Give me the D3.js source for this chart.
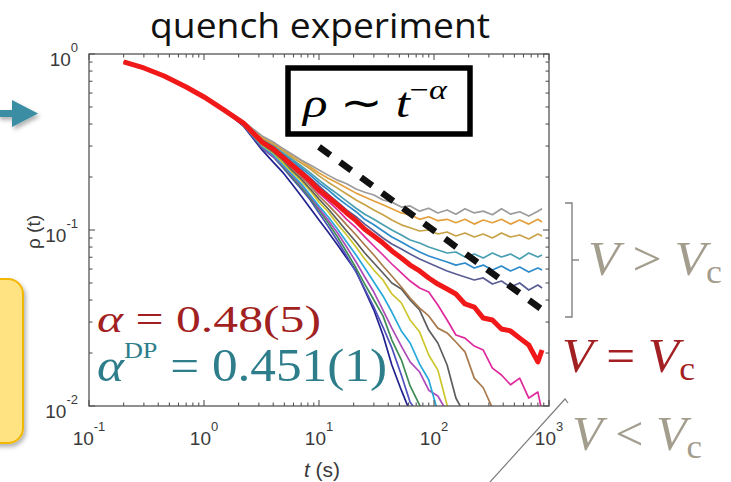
<!DOCTYPE html>
<html><head><meta charset="utf-8">
<script src="https://cdn.jsdelivr.net/npm/d3@7/dist/d3.min.js"></script>
<style>html,body{margin:0;padding:0;background:#fff;}svg{display:block;}</style>
</head><body>
<svg id="chart" width="731" height="482"></svg>
<script>
// ---------------- data ----------------
const times = [0.2,0.3,0.45,0.7,1,1.5,2.2,3.2,4,4.8,5.8,7,8.4,10,12,14.5,17.4,21,25,30,36,43,52,62,75,90,108,130,155,186,224,268,322,386,463,556,667,800,870];
const rhoEarly = [0.901,0.833,0.750,0.649,0.570,0.480];
const rhoGray = [0.414,0.342,0.316,0.292,0.270,0.250,0.234,0.219,0.205,0.192,0.183,0.171,0.164,0.158,0.148,0.144,0.135,0.137,0.128,0.133,0.125,0.130,0.123,0.132,0.125,0.128,0.122,0.132,0.123,0.127,0.120,0.128,0.132];
const rhoOrange = [0.412,0.338,0.312,0.289,0.267,0.247,0.228,0.211,0.197,0.185,0.173,0.162,0.154,0.146,0.139,0.132,0.125,0.122,0.115,0.119,0.113,0.115,0.110,0.115,0.108,0.114,0.110,0.115,0.108,0.114,0.108,0.115,0.111];
const rhoTan = [0.410,0.333,0.308,0.285,0.260,0.240,0.222,0.203,0.187,0.173,0.160,0.148,0.139,0.130,0.122,0.114,0.107,0.103,0.0987,0.100,0.0949,0.0974,0.0925,0.0962,0.0913,0.0949,0.0901,0.0962,0.0913,0.0937,0.0889,0.0949,0.0925];
const rhoTeal = [0.408,0.329,0.304,0.277,0.253,0.231,0.211,0.192,0.175,0.160,0.146,0.133,0.123,0.115,0.107,0.100,0.0937,0.0877,0.0843,0.0800,0.0770,0.0740,0.0750,0.0702,0.0730,0.0693,0.0740,0.0702,0.0730,0.0684,0.0740,0.0702,0.0721];
const rhoBlue = [0.406,0.325,0.300,0.274,0.250,0.225,0.205,0.185,0.169,0.152,0.139,0.127,0.115,0.107,0.0987,0.0913,0.0855,0.0800,0.0750,0.0712,0.0684,0.0658,0.0632,0.0649,0.0608,0.0632,0.0592,0.0624,0.0585,0.0616,0.0577,0.0608,0.0592];
const rhoSlate = [0.405,0.320,0.296,0.270,0.243,0.219,0.197,0.178,0.160,0.144,0.130,0.119,0.108,0.0987,0.0901,0.0832,0.0780,0.0730,0.0684,0.0649,0.0616,0.0585,0.0562,0.0541,0.0520,0.0534,0.0493,0.0513,0.0474,0.0500,0.0456,0.0487,0.0468];
const rhoRed = [0.405,0.316,0.289,0.260,0.234,0.211,0.190,0.169,0.154,0.139,0.125,0.113,0.101,0.0925,0.0843,0.0760,0.0693,0.0632,0.0585,0.0534,0.0493,0.0462,0.0433,0.0380,0.0365,0.0316,0.0308,0.0274,0.0267,0.0243,0.0222,0.0178,0.0208];
const rhoMagenta = [0.403,0.316,0.285,0.257,0.228,0.205,0.183,0.162,0.146,0.130,0.115,0.103,0.0913,0.0811,0.0721,0.0641,0.0570,0.0513,0.0468,0.0444,0.0375,0.0308,0.0253,0.0243,0.0219,0.0208,0.0164,0.0150,0.0132,0.0144,0.0111,0.0120,0.00925];
const rhoBrown = [0.401,0.312,0.281,0.253,0.225,0.200,0.178,0.156,0.139,0.122,0.107,0.0937,0.0822,0.0721,0.0624,0.0548,0.0474,0.0411,0.0360,0.0325,0.0277,0.0260,0.0231,0.0203,0.0144,0.0127,0.00975,0.00855];
const rhoDarkGray = [0.400,0.308,0.277,0.250,0.219,0.195,0.171,0.150,0.132,0.114,0.0987,0.0855,0.0740,0.0649,0.0570,0.0500,0.0462,0.0400,0.0351,0.0270,0.0228,0.0171,0.0111,0.00889];
const rhoYellow = [0.398,0.304,0.274,0.243,0.214,0.190,0.167,0.144,0.127,0.108,0.0937,0.0800,0.0684,0.0592,0.0520,0.0433,0.0385,0.0308,0.0263,0.0195,0.0160,0.0101,0.00889];
const rhoCyan = [0.396,0.300,0.267,0.237,0.208,0.183,0.158,0.137,0.119,0.101,0.0855,0.0721,0.0608,0.0506,0.0422,0.0342,0.0267,0.0228,0.0173,0.0141,0.00925];
const rhoOrchid = [0.396,0.298,0.263,0.234,0.205,0.180,0.156,0.133,0.114,0.0962,0.0800,0.0658,0.0541,0.0444,0.0351,0.0277,0.0219,0.0178,0.0156,0.0123,0.0114,0.00925];
const rhoGreen = [0.394,0.296,0.263,0.231,0.200,0.175,0.152,0.130,0.110,0.0913,0.0750,0.0608,0.0493,0.0400,0.0325,0.0237,0.0183,0.0130,0.0101,0.00889];
const rhoPurple = [0.392,0.292,0.260,0.228,0.197,0.171,0.148,0.125,0.105,0.0866,0.0712,0.0577,0.0462,0.0365,0.0281,0.0214,0.0150,0.0105,0.00889];
const rhoNavy = [0.390,0.285,0.243,0.214,0.183,0.156,0.133,0.114,0.0974,0.0822,0.0693,0.0585,0.0456,0.0351,0.0253,0.0171,0.0123,0.00925];

const thinSeries = [rhoNavy, rhoPurple, rhoGreen, rhoOrchid, rhoCyan, rhoYellow, rhoDarkGray, rhoBrown, rhoMagenta, rhoSlate, rhoBlue, rhoTeal, rhoTan, rhoOrange, rhoGray];
const thinColors = ["#22228e","#5050bd","#3e8c55","#ad4bb8","#27a8da","#cdc62e","#5d5d5d","#a8794b","#e0299c","#5a5e95","#2e8bcb","#4a9fb2","#c8a247","#e3a03c","#9c9c9c"];
const redSeries = rhoRed;

const dashT = [10, 960];
const dashRho = [0.297, 0.0337];

const xTickValues = [0.1, 1, 10, 100, 1000];
const xTickExp = ["-1", "0", "1", "2", "3"];
const yTickValues = [1, 0.1, 0.01];
const yTickExp = ["0", "-1", "-2"];

// ---------------- layout ----------------
const svg = d3.select("#chart");
const L = 89, R = 549, T = 54, B = 406;
const x = d3.scaleLog().domain([0.1, 1000]).range([L, R]);
const y = d3.scaleLog().domain([0.01, 1]).range([B, T]);

const defs = svg.append("defs");
defs.append("clipPath").attr("id", "plotclip").append("rect")
  .attr("x", L).attr("y", T).attr("width", R - L).attr("height", B - T);
const sh = defs.append("filter").attr("id", "shadow").attr("x", "-50%").attr("y", "-50%").attr("width", "200%").attr("height", "200%");
sh.append("feDropShadow").attr("dx", 2).attr("dy", 3).attr("stdDeviation", 2).attr("flood-color", "#000").attr("flood-opacity", 0.3);

// yellow box at left
svg.append("rect").attr("x", -40).attr("y", 279).attr("width", 63).attr("height", 164).attr("rx", 15)
  .attr("fill", "#ffe281").attr("stroke", "#f2b705").attr("stroke-width", 2).attr("filter", "url(#shadow)");

// teal arrow
const arrow = svg.append("g").attr("filter", "url(#shadow)");
arrow.append("rect").attr("x", -2).attr("y", 110).attr("width", 16).attr("height", 7).attr("fill", "#3a8da4");
arrow.append("path").attr("d", "M12,100 L38,113.5 L12,127 Z").attr("fill", "#3a8da4");

// title
svg.append("text").attr("x", 150).attr("y", 38)
  .attr("font-family", "'Open Sans', sans-serif").attr("font-size", 35).attr("fill", "#111")
  .attr("textLength", 340).attr("lengthAdjust", "spacingAndGlyphs")
  .text("quench experiment");

// curves
const line = d3.line().x(d => x(d[0])).y(d => y(d[1]));
const plot = svg.append("g").attr("clip-path", "url(#plotclip)");
thinSeries.forEach((s, k) => {
  const vals = rhoEarly.concat(s);
  const pts = vals.map((v, i) => [times[i], v]);
  plot.append("path").attr("d", line(pts)).attr("fill", "none")
    .attr("stroke", thinColors[k]).attr("stroke-width", 1.7).attr("stroke-linejoin", "round");
});
{
  const vals = rhoEarly.concat(redSeries);
  const pts = vals.map((v, i) => [times[i], v]);
  plot.append("path").attr("d", line(pts)).attr("fill", "none")
    .attr("stroke", "#f01818").attr("stroke-width", 5).attr("stroke-linejoin", "round");
}
// dashed power-law guide
plot.append("path").attr("d", line(dashT.map((t, i) => [t, dashRho[i]])))
  .attr("fill", "none").attr("stroke", "#111").attr("stroke-width", 6.5).attr("stroke-dasharray", "14,12");

// frame + ticks
const axisColor = "#555";
svg.append("rect").attr("x", L).attr("y", T).attr("width", R - L).attr("height", B - T)
  .attr("fill", "none").attr("stroke", axisColor).attr("stroke-width", 1.3);
const isMajor = v => Math.abs(Math.log10(v) - Math.round(Math.log10(v))) < 1e-9;
const tg = svg.append("g").attr("stroke", axisColor).attr("stroke-width", 1.1);
x.ticks().forEach(v => {
  const len = isMajor(v) ? 6 : 3.5, px = x(v);
  tg.append("line").attr("x1", px).attr("x2", px).attr("y1", B).attr("y2", B - len);
  tg.append("line").attr("x1", px).attr("x2", px).attr("y1", T).attr("y2", T + len);
});
y.ticks().forEach(v => {
  const len = isMajor(v) ? 6 : 3.5, py = y(v);
  tg.append("line").attr("x1", L).attr("x2", L + len).attr("y1", py).attr("y2", py);
  tg.append("line").attr("x1", R).attr("x2", R - len).attr("y1", py).attr("y2", py);
});

// tick labels
const tickFont = "'Liberation Sans', Arial, sans-serif";
xTickValues.forEach((v, i) => {
  const t = svg.append("text").attr("x", x(v)).attr("y", B + 39).attr("text-anchor", "middle")
    .attr("font-family", tickFont).attr("font-size", 19).attr("fill", "#3a3a3a");
  t.append("tspan").text("10");
  t.append("tspan").attr("dy", -14).attr("font-size", 13).text(xTickExp[i]);
});
yTickValues.forEach((v, i) => {
  const t = svg.append("text").attr("x", 78).attr("y", y(v) + 12).attr("text-anchor", "end")
    .attr("font-family", tickFont).attr("font-size", 19).attr("fill", "#3a3a3a");
  t.append("tspan").text("10");
  t.append("tspan").attr("dy", -14).attr("font-size", 13).text(yTickExp[i]);
});

// axis titles
const xl = svg.append("text").attr("x", 322).attr("y", 477).attr("text-anchor", "middle")
  .attr("font-family", tickFont).attr("font-size", 21).attr("fill", "#3a3a3a");
xl.append("tspan").attr("font-style", "italic").text("t");
xl.append("tspan").text(" (s)");
svg.append("text").attr("transform", "translate(40,232) rotate(-90)").attr("text-anchor", "middle")
  .attr("font-family", tickFont).attr("font-size", 19).attr("fill", "#3a3a3a")
  .text("ρ (t)");

// formula box
svg.append("rect").attr("x", 288).attr("y", 68).attr("width", 182).attr("height", 66)
  .attr("fill", "#fff").attr("stroke", "#000").attr("stroke-width", 5.5);
const serif = "'Liberation Serif', 'Times New Roman', serif";
const f = svg.append("text").attr("x", 303).attr("y", 117).attr("font-family", serif)
  .attr("font-size", 42).attr("fill", "#000").attr("textLength", 144).attr("lengthAdjust", "spacingAndGlyphs");
f.append("tspan").attr("font-style", "italic").text("ρ");
f.append("tspan").text(" ∼ ");
f.append("tspan").attr("font-style", "italic").text("t");
f.append("tspan").attr("dy", -18).attr("font-size", 28).text("−");
f.append("tspan").attr("font-size", 28).attr("font-style", "italic").text("α");

// exponent annotations
const a1 = svg.append("text").attr("x", 97).attr("y", 332).attr("font-family", serif)
  .attr("font-size", 38).attr("fill", "#a21f22").attr("textLength", 224).attr("lengthAdjust", "spacingAndGlyphs");
a1.append("tspan").attr("font-style", "italic").text("α");
a1.append("tspan").text(" = 0.48(5)");
const a2 = svg.append("text").attr("x", 97).attr("y", 381).attr("font-family", serif)
  .attr("font-size", 47).attr("fill", "#2e7d8b").attr("textLength", 290).attr("lengthAdjust", "spacingAndGlyphs");
a2.append("tspan").attr("font-style", "italic").text("α");
a2.append("tspan").attr("dy", -23).attr("font-size", 24).text("DP");
a2.append("tspan").attr("dy", 23).text(" = 0.451(1)");

// right-hand regime labels
const gray = "#a39d8d";
const br = svg.append("g").attr("stroke", "#808080").attr("stroke-width", 1.4).attr("fill", "none");
br.append("path").attr("d", "M565,203 L572,203 L572,317 L565,317");
br.append("path").attr("d", "M572,260 L579,260");
svg.append("path").attr("d", "M481,492 L565,399 L568,403").attr("fill", "none").attr("stroke", "#7a7a7a").attr("stroke-width", 1.2);

function regime(x0, y0, op, color, len) {
  const t = svg.append("text").attr("x", x0).attr("y", y0).attr("font-family", serif)
    .attr("font-size", 49).attr("fill", color).attr("textLength", len).attr("lengthAdjust", "spacingAndGlyphs");
  t.append("tspan").attr("font-style", "italic").text("V");
  t.append("tspan").text(" " + op + " ");
  t.append("tspan").attr("font-style", "italic").text("V");
  t.append("tspan").attr("dy", 8).attr("font-size", 34).text("c");
}
regime(588, 275, ">", gray, 134);
regime(562, 372, "=", "#a21f22", 133);
regime(572, 450, "<", gray, 130);
</script>
</body></html>
